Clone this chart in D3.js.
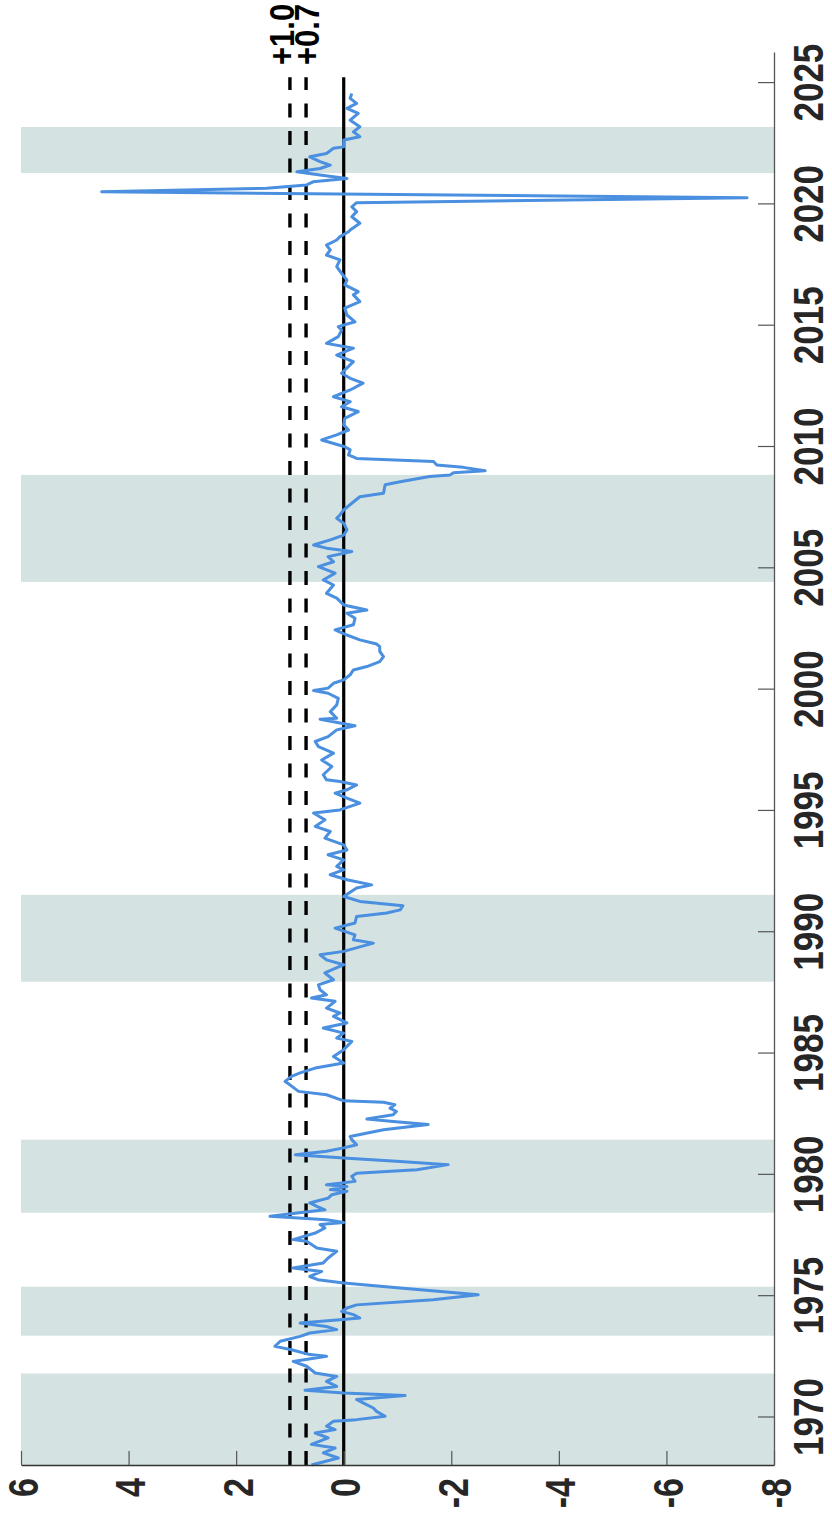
<!DOCTYPE html>
<html>
<head>
<meta charset="utf-8">
<script src="https://cdn.jsdelivr.net/npm/d3@7"></script>
<style>
  body { margin: 0; background: #fff; }
  svg { display: block; }
  text { font-family: "Liberation Sans", Arial, Helvetica, sans-serif; font-weight: bold; }
</style>
</head>
<body>
<div id="chart"></div>
<script>
// [year, value]
var series = [
  [1968.00, 0.60], [1968.29, 0.10], [1968.50, 0.38], [1968.70, 0.16], [1968.85, 0.60],
  [1969.12, 0.29], [1969.32, 0.53], [1969.46, 0.16], [1969.60, 0.32], [1969.80, 0.19],
  [1969.87, -0.24], [1970.01, -0.77], [1970.21, -0.61], [1970.35, -0.55], [1970.56, -0.36],
  [1970.70, -0.24], [1970.86, -1.14], [1970.97, 0.00], [1971.08, 0.72], [1971.24, 0.13],
  [1971.45, 0.32], [1971.65, 0.13], [1971.79, 0.53], [1972.07, 0.69], [1972.27, 0.94],
  [1972.48, 0.32], [1972.55, 0.63], [1972.75, 0.97], [1972.89, 1.28], [1973.10, 1.18],
  [1973.30, 0.81], [1973.44, 0.63], [1973.58, 0.13], [1973.71, 0.32], [1973.85, 0.81],
  [1973.99, 0.07], [1974.06, -0.30], [1974.20, -0.18], [1974.33, 0.04], [1974.47, -0.06],
  [1974.60, -0.24], [1974.81, -1.66], [1975.02, -2.50], [1975.30, -1.05], [1975.50, 0.00],
  [1975.64, 0.48], [1975.77, 0.63], [1975.98, 0.41], [1976.12, 0.94], [1976.33, 0.38],
  [1976.53, 0.29], [1976.81, 0.13], [1976.94, 0.50], [1977.22, 0.69], [1977.29, 0.94],
  [1977.56, 0.53], [1977.77, 0.35], [1977.91, 0.44], [1978.00, 0.00], [1978.11, 0.32],
  [1978.25, 1.37], [1978.45, 0.63], [1978.52, 0.35], [1978.66, 0.50], [1978.80, 0.63],
  [1978.86, 0.53], [1979.00, 0.29], [1979.14, 0.22], [1979.28, -0.06], [1979.35, 0.25],
  [1979.48, -0.06], [1979.55, 0.32], [1979.69, -0.21], [1979.90, -0.15], [1980.03, -0.24],
  [1980.17, -1.36], [1980.38, -1.94], [1980.51, -1.05], [1980.65, 0.00], [1980.79, 0.90],
  [1980.93, 0.32], [1981.07, 0.00], [1981.20, -0.24], [1981.41, -0.15], [1981.54, -0.12],
  [1981.82, -0.74], [1982.03, -1.57], [1982.16, -0.92], [1982.26, -0.43], [1982.44, -0.92],
  [1982.57, -0.98], [1982.71, -0.86], [1982.85, -0.95], [1982.95, -0.74], [1983.01, 0.00],
  [1983.26, 0.32], [1983.40, 0.84], [1983.67, 1.00], [1983.81, 1.09], [1984.02, 0.97],
  [1984.16, 0.81], [1984.36, 0.53], [1984.57, 0.00], [1984.84, 0.19], [1985.12, 0.00],
  [1985.46, -0.15], [1985.60, 0.13], [1985.80, 0.00], [1986.01, 0.38], [1986.22, -0.06],
  [1986.49, 0.19], [1986.63, 0.07], [1986.83, 0.32], [1987.11, 0.16], [1987.25, 0.60],
  [1987.38, 0.32], [1987.59, 0.44], [1987.79, 0.47], [1988.00, 0.19], [1988.28, 0.35],
  [1988.62, 0.00], [1988.82, 0.32], [1989.03, 0.44], [1989.17, 0.00], [1989.51, -0.55],
  [1989.65, -0.18], [1989.85, -0.21], [1990.13, 0.16], [1990.34, -0.21], [1990.61, -0.24],
  [1990.75, -0.80], [1990.88, -1.05], [1991.05, -1.10], [1991.23, -0.30], [1991.43, 0.00],
  [1991.78, -0.24], [1991.91, -0.52], [1992.12, -0.06], [1992.33, 0.25], [1992.53, 0.00],
  [1992.67, 0.13], [1992.94, 0.00], [1993.15, 0.29], [1993.35, -0.06], [1993.56, 0.00],
  [1993.84, 0.35], [1994.11, 0.25], [1994.32, 0.53], [1994.59, 0.35], [1994.87, 0.56],
  [1995.00, 0.07], [1995.28, -0.30], [1995.49, -0.06], [1995.69, 0.16], [1995.83, -0.06],
  [1996.03, -0.24], [1996.17, 0.07], [1996.24, 0.32], [1996.45, 0.38], [1996.79, 0.22],
  [1997.06, 0.41], [1997.34, 0.19], [1997.61, 0.47], [1997.82, 0.53], [1998.02, 0.29],
  [1998.30, 0.13], [1998.47, -0.21], [1998.58, 0.07], [1998.74, 0.44], [1998.78, 0.13],
  [1999.05, 0.25], [1999.33, 0.13], [1999.60, 0.10], [1999.81, 0.29], [1999.92, 0.56],
  [2000.02, 0.29], [2000.22, 0.19], [2000.36, 0.00], [2000.57, -0.12], [2000.77, -0.18],
  [2000.91, -0.43], [2001.11, -0.67], [2001.32, -0.74], [2001.53, -0.67], [2001.73, -0.67],
  [2001.84, -0.61], [2002.01, -0.30], [2002.21, -0.06], [2002.42, 0.16], [2002.63, -0.18],
  [2002.90, -0.21], [2003.11, -0.06], [2003.24, -0.43], [2003.45, 0.00], [2003.73, 0.13],
  [2003.93, 0.32], [2004.27, 0.19], [2004.48, 0.38], [2004.76, 0.16], [2005.03, 0.47],
  [2005.23, 0.19], [2005.44, 0.29], [2005.65, -0.15], [2005.79, 0.32], [2005.92, 0.56],
  [2006.13, 0.25], [2006.33, 0.00], [2006.54, -0.06], [2006.82, 0.00], [2007.02, 0.13],
  [2007.16, 0.07], [2007.37, 0.00], [2007.64, -0.15], [2007.91, -0.30], [2008.05, -0.74],
  [2008.40, -0.77], [2008.53, -1.05], [2008.74, -1.60], [2008.81, -1.98], [2008.90, -2.04],
  [2008.98, -2.63], [2009.12, -2.22], [2009.22, -1.73], [2009.36, -1.67], [2009.49, -0.24],
  [2009.63, -0.09], [2009.84, -0.12], [2009.97, -0.02], [2010.25, 0.41], [2010.46, 0.13],
  [2010.66, -0.09], [2010.87, 0.00], [2011.14, -0.02], [2011.42, -0.27], [2011.62, 0.04],
  [2011.83, -0.12], [2012.03, 0.19], [2012.31, -0.12], [2012.59, -0.36], [2012.79, -0.12],
  [2013.00, 0.04], [2013.48, -0.18], [2013.75, 0.13], [2014.03, -0.18], [2014.23, 0.32],
  [2014.51, 0.10], [2014.78, 0.04], [2014.92, 0.10], [2015.12, -0.21], [2015.40, -0.06],
  [2015.68, -0.02], [2015.95, -0.30], [2016.23, -0.18], [2016.36, -0.27], [2016.64, -0.02],
  [2016.84, -0.06], [2017.12, 0.04], [2017.39, 0.13], [2017.67, 0.07], [2017.87, 0.32],
  [2018.08, 0.25], [2018.28, 0.32], [2018.49, 0.13], [2018.63, 0.07], [2018.83, -0.09],
  [2018.90, -0.12], [2019.18, -0.30], [2019.45, -0.15], [2019.66, -0.24], [2019.86, -0.15],
  [2020.03, -0.24], [2020.23, -7.50], [2020.48, 4.50], [2020.62, 1.43], [2020.76, 0.69],
  [2020.89, 0.57], [2021.03, -0.06], [2021.17, 0.44], [2021.30, 0.87], [2021.44, 0.44],
  [2021.58, 0.25], [2021.72, 0.44], [2021.92, 0.63], [2022.06, 0.32], [2022.27, 0.19],
  [2022.33, 0.00], [2022.61, 0.00], [2022.75, -0.30], [2022.95, -0.18], [2023.16, -0.30],
  [2023.43, -0.12], [2023.71, -0.27], [2023.92, -0.06], [2024.12, -0.24], [2024.33, -0.12],
  [2024.53, -0.15]
];

var bandStart = [1968.00, 1973.33, 1978.40, 1987.92, 2004.40, 2021.25];
var bandEnd   = [1971.77, 1975.35, 1981.41, 1991.50, 2008.81, 2023.15];

var refLevels = [1.0, 0.7];
var refLabels = ["+1.0", "+0.7"];

var valueTicks = [6, 4, 2, 0, -2, -4, -6, -8];
var yearTicks = [1970, 1975, 1980, 1985, 1990, 1995, 2000, 2005, 2010, 2015, 2020, 2025];

var yearMin = 1968, yearMax = 2026.24, refEnd = 2025.2;

var svgWidth = 832,
    svgHeight = 1517,
    plotLeft = 21,
    plotRight = 774,
    plotTop = 52,
    plotBottom = 1465;

var x = d3.scaleLinear()
    .domain([6, -8])
    .range([plotLeft, plotRight]);

var y = d3.scaleLinear()
    .domain([yearMin, yearMax])
    .range([plotBottom, plotTop]);

var svg = d3.select("#chart").append("svg")
    .attr("width", svgWidth)
    .attr("height", svgHeight);

// shaded periods
svg.append("g").selectAll("rect")
    .data(bandStart)
    .enter().append("rect")
    .attr("x", plotLeft)
    .attr("width", plotRight - plotLeft)
    .attr("y", function(d, i) { return y(bandEnd[i]); })
    .attr("height", function(d, i) { return y(d) - y(bandEnd[i]); })
    .attr("fill", "#d4e2e2");

// dashed thresholds
svg.append("g").selectAll("line")
    .data(refLevels)
    .enter().append("line")
    .attr("x1", function(d) { return x(d); })
    .attr("x2", function(d) { return x(d); })
    .attr("y1", y(yearMin))
    .attr("y2", y(refEnd))
    .attr("stroke", "#000")
    .attr("stroke-width", 3.4)
    .attr("stroke-dasharray", "14,13.5");

svg.append("line")
    .attr("x1", x(0)).attr("x2", x(0))
    .attr("y1", y(yearMin)).attr("y2", y(refEnd))
    .attr("stroke", "#000")
    .attr("stroke-width", 3.2);

var line = d3.line()
    .x(function(d) { return x(d[1]); })
    .y(function(d) { return y(d[0]); });

svg.append("path")
    .datum(series)
    .attr("fill", "none")
    .attr("stroke", "#4a8fe0")
    .attr("stroke-width", 3)
    .attr("stroke-linejoin", "round")
    .attr("d", line);

// threshold labels, clipped by the top edge like the original
var labelShift = [4, 13];
svg.append("g").selectAll("text")
    .data(refLevels)
    .enter().append("text")
    .attr("transform", function(d, i) {
        return "translate(" + (x(d) + labelShift[i]) + "," + 65 + ") rotate(-90) scale(1,1.15)";
    })
    .attr("text-anchor", "start")
    .attr("font-size", 31)
    .attr("fill", "#000")
    .text(function(d, i) { return refLabels[i]; });

// value axis along the bottom
var gx = svg.append("g")
    .attr("transform", "translate(0," + plotBottom + ")")
    .call(d3.axisBottom(x)
        .tickValues(valueTicks)
        .tickSizeInner(-14)
        .tickSizeOuter(0)
        .tickFormat(function(d) { return String(d); }));

gx.select(".domain").attr("stroke", "#333").attr("stroke-width", 1.3);
gx.selectAll(".tick line").attr("stroke", "#555").attr("stroke-width", 1.2);
gx.selectAll(".tick text")
    .attr("x", null).attr("y", null).attr("dy", null)
    .attr("transform", "translate(16,13) rotate(-90) scale(1,1.23)")
    .attr("text-anchor", "end")
    .attr("font-size", 34)
    .attr("fill", "#262626");

// year axis along the right
var gy = svg.append("g")
    .attr("transform", "translate(" + plotRight + ",0)")
    .call(d3.axisRight(y)
        .tickValues(yearTicks)
        .tickSizeInner(-16)
        .tickSizeOuter(0)
        .tickFormat(d3.format("d")));

gy.select(".domain").attr("stroke", "#555").attr("stroke-width", 1.3);
gy.selectAll(".tick line").attr("stroke", "#555").attr("stroke-width", 1.2);
gy.selectAll(".tick text")
    .attr("x", null).attr("y", null).attr("dy", null)
    .attr("transform", "translate(49,0) rotate(-90) scale(1,1.22)")
    .attr("text-anchor", "middle")
    .attr("font-size", 35)
    .attr("fill", "#262626");
</script>
</body>
</html>
